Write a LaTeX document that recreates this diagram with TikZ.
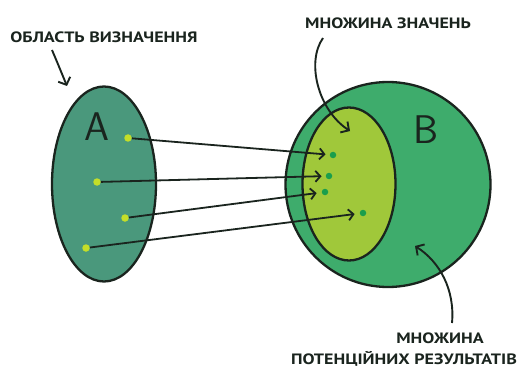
\documentclass[tikz,border=0pt]{standalone}
\usepackage{fontspec}
\newfontfamily\labelfont[FakeStretch=1.2]{PT Sans}
\usetikzlibrary{shapes.geometric,arrows.meta}
\definecolor{setA}{RGB}{74,152,124}
\definecolor{setB}{RGB}{62,172,108}
\definecolor{setImg}{RGB}{160,200,58}
\definecolor{dotA}{RGB}{196,222,40}
\definecolor{dotB}{RGB}{26,158,76}
\definecolor{ink}{RGB}{26,36,30}
\tikzset{
  setshape/.style={ellipse, draw=ink, line width=2.3pt, inner sep=0pt},
  srcdot/.style={circle, fill=dotA, inner sep=0pt, minimum size=7.5pt},
  imgdot/.style={circle, fill=dotB, inner sep=0pt, minimum size=6.5pt},
  maparrow/.style={draw=ink, line width=1.8pt, -{Straight Barb[length=5pt,width=11pt,line width=1.8pt]}},
  notearrow/.style={draw=ink, line width=1.9pt, -{Straight Barb[length=6pt,width=13pt,line width=1.9pt]}},
  caption/.style={font=\labelfont\bfseries\fontsize{15}{17}\selectfont, text=ink, inner sep=0pt},
  setname/.style={font=\sffamily\fontsize{40}{40}\selectfont, text=ink, inner sep=0pt}
}
\begin{document}
\begin{tikzpicture}[x=1pt,y=-1pt]
\useasboundingbox (0,0) rectangle (521,374);
% domain and codomain
\node[setshape, fill=setA, minimum width=104pt, minimum height=195pt] (A) at (104,184) {};
\node[setshape, fill=setB, minimum width=205pt, minimum height=205pt] (B) at (388,184.5) {};
\node[setshape, fill=setImg, minimum width=93pt, minimum height=153pt] (R) at (349,184) {};
\node[setname] (nA) at (97,127) {A};
\node[setname] (nB) at (426,130) {B};
% elements
\node[srcdot] (a1) at (128,138) {};
\node[srcdot] (a2) at (97,182) {};
\node[srcdot] (a3) at (125,218) {};
\node[srcdot] (a4) at (86,248) {};
\node[imgdot] (b1) at (333,155) {};
\node[imgdot] (b2) at (329,176) {};
\node[imgdot] (b3) at (325,192) {};
\node[imgdot] (b4) at (363,213) {};
% mapping
\draw[maparrow, shorten >=4pt] (a1) -- (b1);
\draw[maparrow, shorten >=4pt] (a2) -- (b2);
\draw[maparrow, shorten >=5pt] (a3) -- (b3);
\draw[maparrow, shorten >=5pt] (a4) -- (b4);
% captions
\node[caption] (tA) at (104,37) {ОБЛАСТЬ ВИЗНАЧЕННЯ};
\node[caption] (tR) at (388,23) {МНОЖИНА ЗНАЧЕНЬ};
\node[caption] (tB1) at (440,338) {МНОЖИНА};
\node[caption] (tB2) at (404,359) {ПОТЕНЦІЙНИХ РЕЗУЛЬТАТІВ};
\coordinate (sA) at (52,50);
\coordinate (pA) at (67,86);
\coordinate (sR) at (323,38);
\coordinate (pR) at (350,131);
\coordinate (sB) at (452,323);
\coordinate (pB) at (415,246);
\draw[notearrow] (sA) .. controls (58,64) and (62,74) .. (pA);
\draw[notearrow] (sR) .. controls (306,62) and (318,110) .. (pR);
\draw[notearrow] (sB) .. controls (455,290) and (440,262) .. (pB);
\end{tikzpicture}
\end{document}
